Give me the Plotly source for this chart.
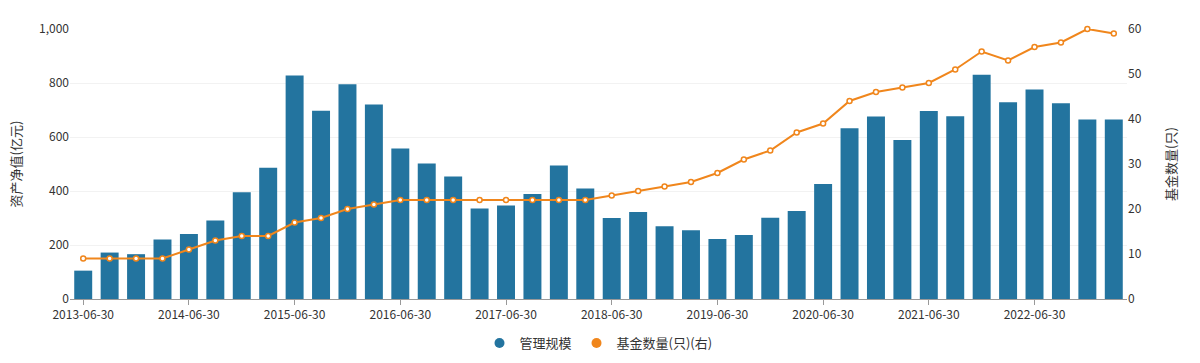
import plotly.graph_objects as go

dates = [
    "2013-06-30", "2013-09-30", "2013-12-31", "2014-03-31",
    "2014-06-30", "2014-09-30", "2014-12-31", "2015-03-31",
    "2015-06-30", "2015-09-30", "2015-12-31", "2016-03-31",
    "2016-06-30", "2016-09-30", "2016-12-31", "2017-03-31",
    "2017-06-30", "2017-09-30", "2017-12-31", "2018-03-31",
    "2018-06-30", "2018-09-30", "2018-12-31", "2019-03-31",
    "2019-06-30", "2019-09-30", "2019-12-31", "2020-03-31",
    "2020-06-30", "2020-09-30", "2020-12-31", "2021-03-31",
    "2021-06-30", "2021-09-30", "2021-12-31", "2022-03-31",
    "2022-06-30", "2022-09-30", "2022-12-31", "2023-03-31",
]
aum = [
    105, 172, 166, 220, 241, 291, 395, 486,
    828, 697, 795, 720, 557, 502, 454, 335,
    346, 389, 494, 409, 300, 322, 269, 255,
    222, 237, 301, 326, 426, 632, 676, 589,
    696, 677, 831, 729, 776, 725, 665, 665,
]
fund_count = [
    9, 9, 9, 9, 11, 13, 14, 14,
    17, 18, 20, 21, 22, 22, 22, 22,
    22, 22, 22, 22, 23, 24, 25, 26,
    28, 31, 33, 37, 39, 44, 46, 47,
    48, 51, 55, 53, 56, 57, 60, 59,
]
tick_labels = [
    "2013-06-30", "2014-06-30", "2015-06-30", "2016-06-30", "2017-06-30",
    "2018-06-30", "2019-06-30", "2020-06-30", "2021-06-30", "2022-06-30",
]
series_names = ["管理规模", "基金数量(只)(右)"]

BAR_COLOR = "#23749f"
LINE_COLOR = "#f0861c"
FONT = "Noto Sans CJK SC, Microsoft YaHei, sans-serif"

fig = go.Figure()
fig.add_trace(go.Bar(
    x=dates, y=aum, name=series_names[0], marker_color=BAR_COLOR,
    marker_line_width=0, showlegend=False, yaxis="y",
))
fig.add_trace(go.Scatter(
    x=dates, y=fund_count, name=series_names[1], mode="lines+markers",
    line=dict(color=LINE_COLOR, width=2),
    marker=dict(symbol="circle", size=5, color="white",
                line=dict(color=LINE_COLOR, width=1.5)),
    showlegend=False, yaxis="y2", cliponaxis=False,
))
# legend entries with round markers
fig.add_trace(go.Scatter(
    x=[dates[0]], y=[None], mode="markers", name=series_names[0],
    marker=dict(symbol="circle", size=10, color=BAR_COLOR), yaxis="y",
))
fig.add_trace(go.Scatter(
    x=[dates[0]], y=[None], mode="markers", name=series_names[1],
    marker=dict(symbol="circle", size=10, color=LINE_COLOR), yaxis="y2",
))

fig.update_layout(
    width=1200, height=363,
    margin=dict(l=70, r=73, t=29, b=64, autoexpand=False),
    paper_bgcolor="white", plot_bgcolor="white",
    font=dict(family=FONT, size=12, color="#333333"),
    bargap=0.32,
    legend=dict(orientation="h", x=0.5, xanchor="center", y=-0.163,
                yanchor="middle", font=dict(size=13, color="#333333"),
                itemwidth=30, tracegroupgap=0),
    xaxis=dict(
        type="category", categoryorder="array", categoryarray=dates,
        range=[-0.5, len(dates) - 0.5],
        tickmode="array", tickvals=tick_labels,
        ticktext=tick_labels, ticks="outside", ticklen=5,
        tickcolor="#999999", showline=True, linecolor="#999999",
        linewidth=1, showgrid=False, tickfont=dict(size=12, color="#333333"),
    ),
    yaxis=dict(
        range=[0, 1000], dtick=200, tickformat=",", showgrid=True,
        gridcolor="#f2f2f2", zeroline=False, showline=False,
        title=dict(text="资产净值(亿元)", font=dict(size=13, color="#333333"),
                   standoff=14),
        tickfont=dict(size=12, color="#333333"),
    ),
    yaxis2=dict(
        range=[0, 60], dtick=10, overlaying="y", side="right",
        showgrid=False, zeroline=False, showline=False,
        title=dict(text="基金数量(只)", font=dict(size=13, color="#333333"),
                   standoff=26),
        tickfont=dict(size=12, color="#333333"),
    ),
)

fig.write_html("out.html")
